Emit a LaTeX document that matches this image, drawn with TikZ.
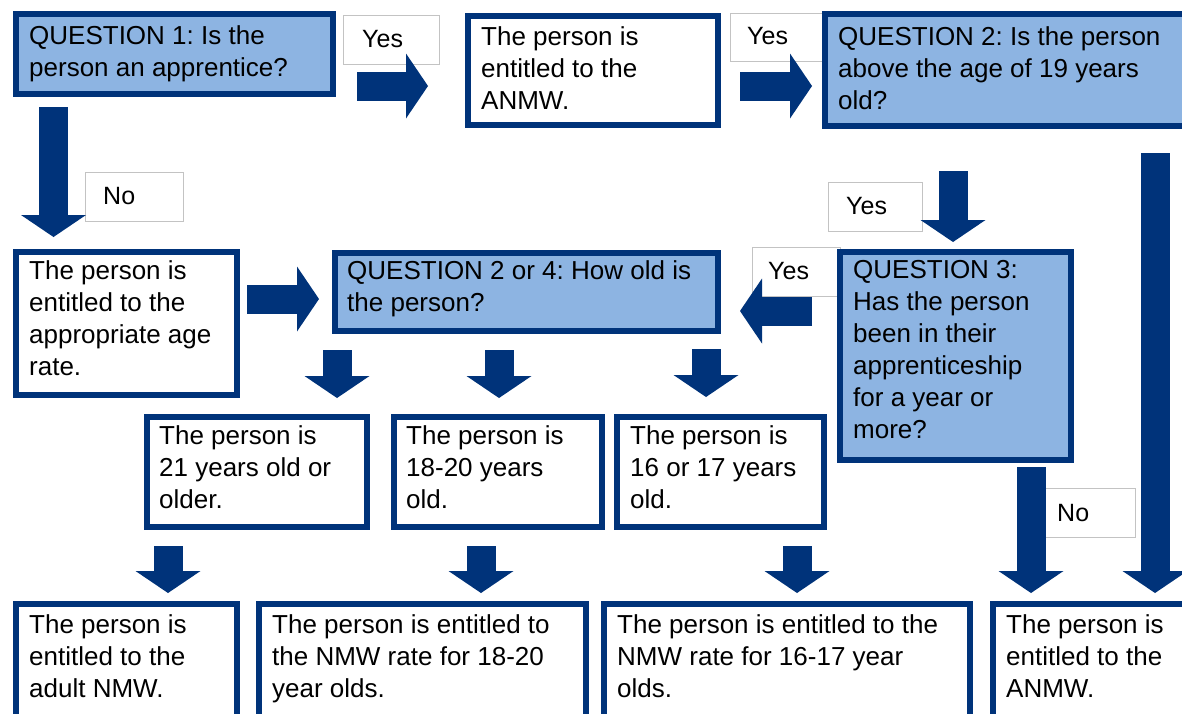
\documentclass[tikz,border=0pt]{standalone}
\usepackage{fontspec}
\setmainfont{Liberation Sans}
\usetikzlibrary{arrows.meta}
\definecolor{navy}{RGB}{0,51,122}
\definecolor{qfill}{RGB}{141,180,226}
\definecolor{lblgrey}{RGB}{195,195,195}
\frenchspacing
\tikzset{
  box/.style={draw=navy, line width=6pt, fill=white},
  qbox/.style={box, fill=qfill},
  lbl/.style={draw=lblgrey, line width=1pt, fill=white},
  txt/.style={anchor=north west, inner sep=0pt, align=left, font=\fontsize{26}{32}\selectfont},
  ltxt/.style={anchor=base west, inner sep=0pt, font=\fontsize{25}{30}\selectfont},
  blk/.style={draw=navy, line width=29pt, line cap=butt,
     -{Triangle[width=65pt,length=22pt,line width=0pt]}},
}
% \boxat{name}{style}{x1}{y1}{x2}{y2}: outer bounds
\newcommand{\boxat}[6]{\node[#2, anchor=north west, inner sep=0pt, minimum width=#5-#3-6, minimum height=#6-#4-6] (#1) at (#3+3,#4+3) {};}
\begin{document}
\begin{tikzpicture}[x=1pt,y=-1pt]
\useasboundingbox (0,0) rectangle (1182,713);
\clip (0,0) rectangle (1182,713);
\fill[white] (0,0) rectangle (1182,713);

% ---- label boxes (behind) ----
\node[lbl, anchor=north west, minimum width=96, minimum height=49, inner sep=0pt] (yes1) at (343,15) {};
\node[ltxt] at (362,47) {Yes};
\node[lbl, anchor=north west, minimum width=92, minimum height=48, inner sep=0pt] (yes2) at (730,13) {};
\node[ltxt] at (747,44) {Yes};
\node[lbl, anchor=north west, minimum width=94, minimum height=49, inner sep=0pt] (yes3) at (828,182) {};
\node[ltxt] at (846,214) {Yes};
\node[lbl, anchor=north west, minimum width=98, minimum height=49, inner sep=0pt] (no1) at (85,172) {};
\node[ltxt] at (103,204) {No};
\node[lbl, anchor=north west, minimum width=88, minimum height=49, inner sep=0pt] (yes4) at (752,247) {};
\node[ltxt] at (768,279) {Yes};
\node[lbl, anchor=north west, minimum width=95, minimum height=49, inner sep=0pt] (no2) at (1040,488) {};
\node[ltxt] at (1057,521) {No};

% ---- boxes ----
\boxat{q1}{qbox}{10}{8}{333}{94}
\node[txt] at (29,25) {QUESTION 1: Is the\\person an apprentice?};

\boxat{anmwA}{box}{462}{10}{718}{125}
\node[txt] at (481,26) {The person is\\entitled to the\\ANMW.};

\boxat{q2}{qbox}{819}{8}{1195}{126}
\node[txt] at (838,26) {QUESTION 2: Is the person\\above the age of 19 years\\old?};

\boxat{agerate}{box}{10}{246}{237}{395}
\node[txt] at (29,260) {The person is\\entitled to the\\appropriate age\\rate.};

\boxat{q24}{qbox}{329}{247}{718}{331}
\node[txt] at (347,260) {QUESTION 2 or 4: How old is\\the person?};

\boxat{q3}{qbox}{834}{246}{1071}{460}
\node[txt] at (853,260) {QUESTION 3:\\Has the person\\been in their\\apprenticeship\\for a year or\\more?};

\boxat{m21}{box}{141}{411}{367}{527}
\node[txt] at (159,425) {The person is\\21 years old or\\older.};
\boxat{m18}{box}{388}{411}{602}{527}
\node[txt] at (406,425) {The person is\\18-20 years\\old.};
\boxat{m16}{box}{611}{411}{824}{527}
\node[txt] at (630,425) {The person is\\16 or 17 years\\old.};

\boxat{b1}{box}{10}{598}{237}{717}
\node[txt] at (29,614) {The person is\\entitled to the\\adult NMW.};
\boxat{b2}{box}{253}{598}{586}{717}
\node[txt] at (272,614) {The person is entitled to\\the NMW rate for 18-20\\year olds.};
\boxat{b3}{box}{598}{598}{970}{717}
\node[txt] at (617,614) {The person is entitled to the\\NMW rate for 16-17 year\\olds.};
\boxat{b4}{box}{987}{598}{1195}{717}
\node[txt] at (1006,614) {The person is\\entitled to the\\ANMW.};

% ---- block arrows ----
\coordinate (a1s) at (357,86);  \coordinate (a1e) at (428,86);
\coordinate (a2s) at (740,86);  \coordinate (a2e) at (812,86);
\coordinate (a3s) at (53.5,107); \coordinate (a3e) at (53.5,237);
\coordinate (a4s) at (953,171); \coordinate (a4e) at (953,242);
\coordinate (a5s) at (1155,153); \coordinate (a5e) at (1155,593);
\coordinate (a6s) at (247,299); \coordinate (a6e) at (319,299);
\coordinate (a7s) at (812,311); \coordinate (a7e) at (740,311);
\coordinate (a8s) at (337,350); \coordinate (a8e) at (337,398);
\coordinate (a9s) at (499,350); \coordinate (a9e) at (499,398);
\coordinate (a10s) at (706,349); \coordinate (a10e) at (706,397);
\coordinate (a11s) at (168,546); \coordinate (a11e) at (168,593);
\coordinate (a12s) at (481,546); \coordinate (a12e) at (481,593);
\coordinate (a13s) at (797,546); \coordinate (a13e) at (797,593);
\coordinate (a14s) at (1031,467); \coordinate (a14e) at (1031,593);

\foreach \i in {1,...,14} \draw[blk] (a\i s) -- (a\i e);
\end{tikzpicture}
\end{document}
